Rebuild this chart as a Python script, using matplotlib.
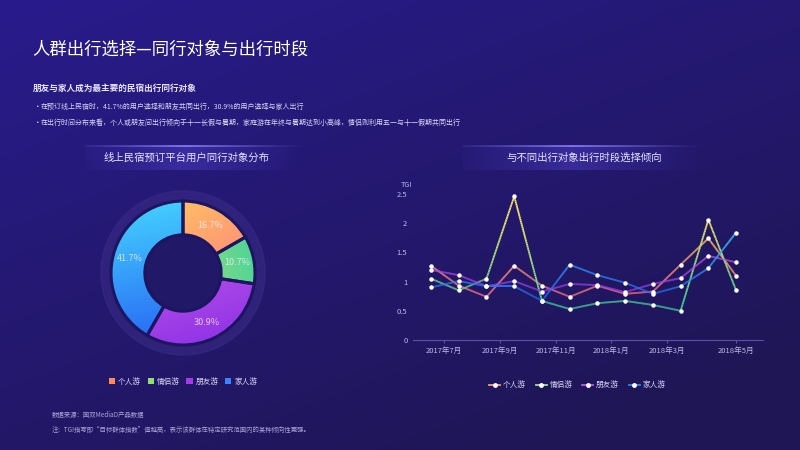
import matplotlib.pyplot as plt
import numpy as np
from matplotlib.collections import LineCollection
from matplotlib.colors import LinearSegmentedColormap, to_rgb
from matplotlib.lines import Line2D
from matplotlib.patches import Patch, Circle

plt.rcParams['font.family'] = ['Noto Sans CJK SC', 'DejaVu Sans']

# ---- data ----
groups = ['个人游', '情侣游', '朋友游', '家人游']
share = [16.7, 10.7, 30.9, 41.7]

months = ['2017年7月', '2017年8月', '2017年9月', '2017年10月', '2017年11月', '2017年12月',
          '2018年1月', '2018年2月', '2018年3月', '2018年4月', '2018年5月', '2018年6月']
tgi_solo = [1.27, 0.93, 0.74, 1.27, 0.93, 0.74, 0.93, 0.79, 0.83, 1.29, 1.74, 1.10]
tgi_couple = [1.05, 0.85, 1.05, 2.46, 0.67, 0.53, 0.63, 0.67, 0.60, 0.50, 2.06, 0.85]
tgi_friends = [1.20, 1.11, 0.92, 1.01, 0.83, 0.96, 0.94, 0.82, 0.96, 1.06, 1.44, 1.33]
tgi_family = [0.90, 1.01, 0.92, 0.92, 0.67, 1.29, 1.11, 0.98, 0.79, 0.92, 1.23, 1.84]

xtick_pos = [0.45, 2.5, 4.5, 6.5, 8.5, 11]
xtick_labels = ['2017年7月', '2017年9月', '2017年11月', '2018年1月', '2018年3月', '2018年5月']

title = '人群出行选择—同行对象与出行时段'
subtitle = '朋友与家人成为最主要的民宿出行同行对象'
bullets = ['在预订线上民宿时，41.7%的用户选择和朋友共同出行，30.9%的用户选择与家人出行',
           '在出行时间分布来看，个人或朋友间出行倾向于十一长假与暑期，家庭游在年终与暑期达到小高峰，情侣则利用五一与十一假期共同出行']
notes = ['数据来源：国双MediaD产品数据',
         '注：TGI指写即“目标群体指数”值越高，表示该群体在特定研究范围内的某种倾向性更强。']

# gradient colours (low, high)
grads = [('#ff5f8f', '#ffd35a'),
         ('#3fd39a', '#f2e46a'),
         ('#8a2fe6', '#d86ae8'),
         ('#2358f2', '#45d6ff')]

BG = '#211868'
fig = plt.figure(figsize=(8, 4.5), dpi=100)

# background with soft gradient
bg = fig.add_axes([0, 0, 1, 1])
bg.set_xlim(0, 800)
bg.set_ylim(450, 0)
bg.axis('off')
yy, xx = np.mgrid[0:450, 0:800]
t = np.clip((xx / 800 * 0.6 + yy / 450 * 0.9) / 1.3, 0, 1)[..., None]
c0 = np.array(to_rgb('#291b8c'))
c1 = np.array(to_rgb('#1f1656'))
img = c0 * (1 - t) + c1 * t
bg.imshow(img, extent=[0, 800, 450, 0], aspect='auto', zorder=0)

# panel title banners
for x0, x1 in [(85, 307), (463, 707)]:
    w = int(x1 - x0)
    u = np.linspace(0, 1, w)
    a = np.clip(1 - np.abs(u - 0.45) / 0.55, 0, 1) ** 1.2
    band = np.zeros((1, w, 4))
    band[..., :3] = to_rgb('#4a3cc0')
    band[..., 3] = a * 0.55
    bg.imshow(band, extent=[x0, x1, 170, 146], aspect='auto', zorder=1)
    top = np.zeros((1, w, 4))
    top[..., :3] = to_rgb('#8f86ff')
    top[..., 3] = a * 0.8
    bg.imshow(top, extent=[x0, x1, 147, 145.5], aspect='auto', zorder=2)

bg.text(32, 50, title, color='white', fontsize=12.5, va='center', ha='left')
bg.text(33, 88, subtitle, color='#e8e6ff', fontsize=6.2, fontweight='bold', va='center')
for i, b in enumerate(bullets):
    y = 107 + i * 16
    bg.text(34, y, '•', color='#d8d6f5', fontsize=5.5, va='center')
    bg.text(40.5, y, b, color='#d8d6f5', fontsize=5.0, va='center')
bg.text(187, 158, '线上民宿预订平台用户同行对象分布', color='#e6e4ff', fontsize=7.5, ha='center', va='center')
bg.text(584, 158, '与不同出行对象出行时段选择倾向', color='#e6e4ff', fontsize=7.5, ha='center', va='center')
for i, n in enumerate(notes):
    bg.text(52, 415 + i * 15, n, color='#a9a4d8', fontsize=4.6, va='center')

# ---- donut ----
dax = fig.add_axes([(183 - 90) / 800, (450 - 273 - 90) / 450, 180 / 800, 180 / 450])
dax.set_xlim(-1.25, 1.25)
dax.set_ylim(-1.25, 1.25)
dax.set_aspect('equal')
dax.axis('off')
dax.add_patch(Circle((0, 0), 1.14, color='#3a2c86', alpha=0.55, zorder=0))
dax.add_patch(Circle((0, 0), 1.0, color=BG, zorder=0.5))

wedges, _ = dax.pie(share, startangle=90, counterclock=False, radius=1.0,
                    wedgeprops=dict(width=0.47, edgecolor='#1c1560', linewidth=2.2))
gx, gy = np.meshgrid(np.linspace(-1, 1, 200), np.linspace(-1, 1, 200))
dirs = [(0.6, -1), (1, 0.3), (0.3, -1), (0.2, -1)]
for k, (w, (lo, hi), d) in enumerate(zip(wedges, grads, dirs)):
    w.set_facecolor('none')
    th = np.deg2rad((w.theta1 + w.theta2) / 2)
    proj = gx * d[0] + gy * d[1]
    s = (proj - proj.min()) / (proj.max() - proj.min())
    cm = LinearSegmentedColormap.from_list('g', [hi, lo])
    im = dax.imshow(s, cmap=cm, extent=[-1, 1, -1, 1], origin='lower', zorder=1)
    im.set_clip_path(w)
    w.set_zorder(2)
    mx, my = 0.765 * np.cos(th), 0.765 * np.sin(th)
    dax.text(mx, my, f'{share[k]}%', color='#f4eefc', alpha=0.8,
             fontsize=6.5, ha='center', va='center', zorder=3)

dax.legend([Patch(facecolor=c, edgecolor='none') for c in ['#ff8a55', '#8fe070', '#a23ce6', '#3a84ff']],
           groups, loc='center', bbox_to_anchor=(0.5, -0.105), ncol=4, frameon=False,
           fontsize=5.5, labelcolor='#d8d6f5', handlelength=0.8, handleheight=0.8,
           handletextpad=0.4, columnspacing=0.9)

# ---- line chart ----
ax = fig.add_axes([413 / 800, (450 - 340) / 450, 350 / 800, 146 / 450])
ax.set_facecolor('none')
ax.set_xlim(-0.65, 11.97)
ax.set_ylim(0, 2.5)
x = np.arange(len(months))
series = [tgi_solo, tgi_couple, tgi_friends, tgi_family]
for vals, (lo, hi) in zip(series, grads):
    xf = np.linspace(0, len(x) - 1, 600)
    yf = np.interp(xf, x, vals)
    pts = np.column_stack([xf, yf]).reshape(-1, 1, 2)
    segs = np.concatenate([pts[:-1], pts[1:]], axis=1)
    cm = LinearSegmentedColormap.from_list('g', [lo, hi])
    lc = LineCollection(segs, cmap=cm, linewidth=1.3, zorder=2)
    lc.set_array(np.clip((yf[:-1] - 0.6) / 1.4, 0, 1))
    lc.set_clim(0, 1)
    ax.add_collection(lc)
    ax.plot(x, vals, 'o', color='white', markersize=2.2, zorder=3)

for s in ['top', 'right', 'left']:
    ax.spines[s].set_visible(False)
ax.spines['bottom'].set_color('#5a50a8')
ax.spines['bottom'].set_linewidth(0.8)
ax.set_yticks([0, 0.5, 1, 1.5, 2, 2.5])
ax.set_yticklabels(['0', '0.5', '1', '1.5', '2', '2.5'])
ax.set_xticks(xtick_pos)
ax.set_xticklabels(xtick_labels)
ax.tick_params(axis='y', length=0, labelsize=5.5, labelcolor='#bdb8e6', pad=4)
ax.tick_params(axis='x', length=2, color='#5a50a8', labelsize=5.5, labelcolor='#bdb8e6', pad=3)
ax.text(-0.9, 2.66, 'TGI', color='#bdb8e6', fontsize=5.2, ha='center', va='center')

handles = [Line2D([0], [0], color=c, lw=1.3, marker='o', markersize=2.5,
                  markerfacecolor='white', markeredgecolor='white')
           for c in ['#ff9a70', '#a6e08a', '#b458e8', '#3a7cf5']]
ax.legend(handles, groups, loc='center', bbox_to_anchor=(0.47, -0.31), ncol=4, frameon=False,
          fontsize=5.5, labelcolor='#d8d6f5', handlelength=1.4, handletextpad=0.4,
          columnspacing=1.3)

fig.savefig('out.png', dpi=100, facecolor=BG)
